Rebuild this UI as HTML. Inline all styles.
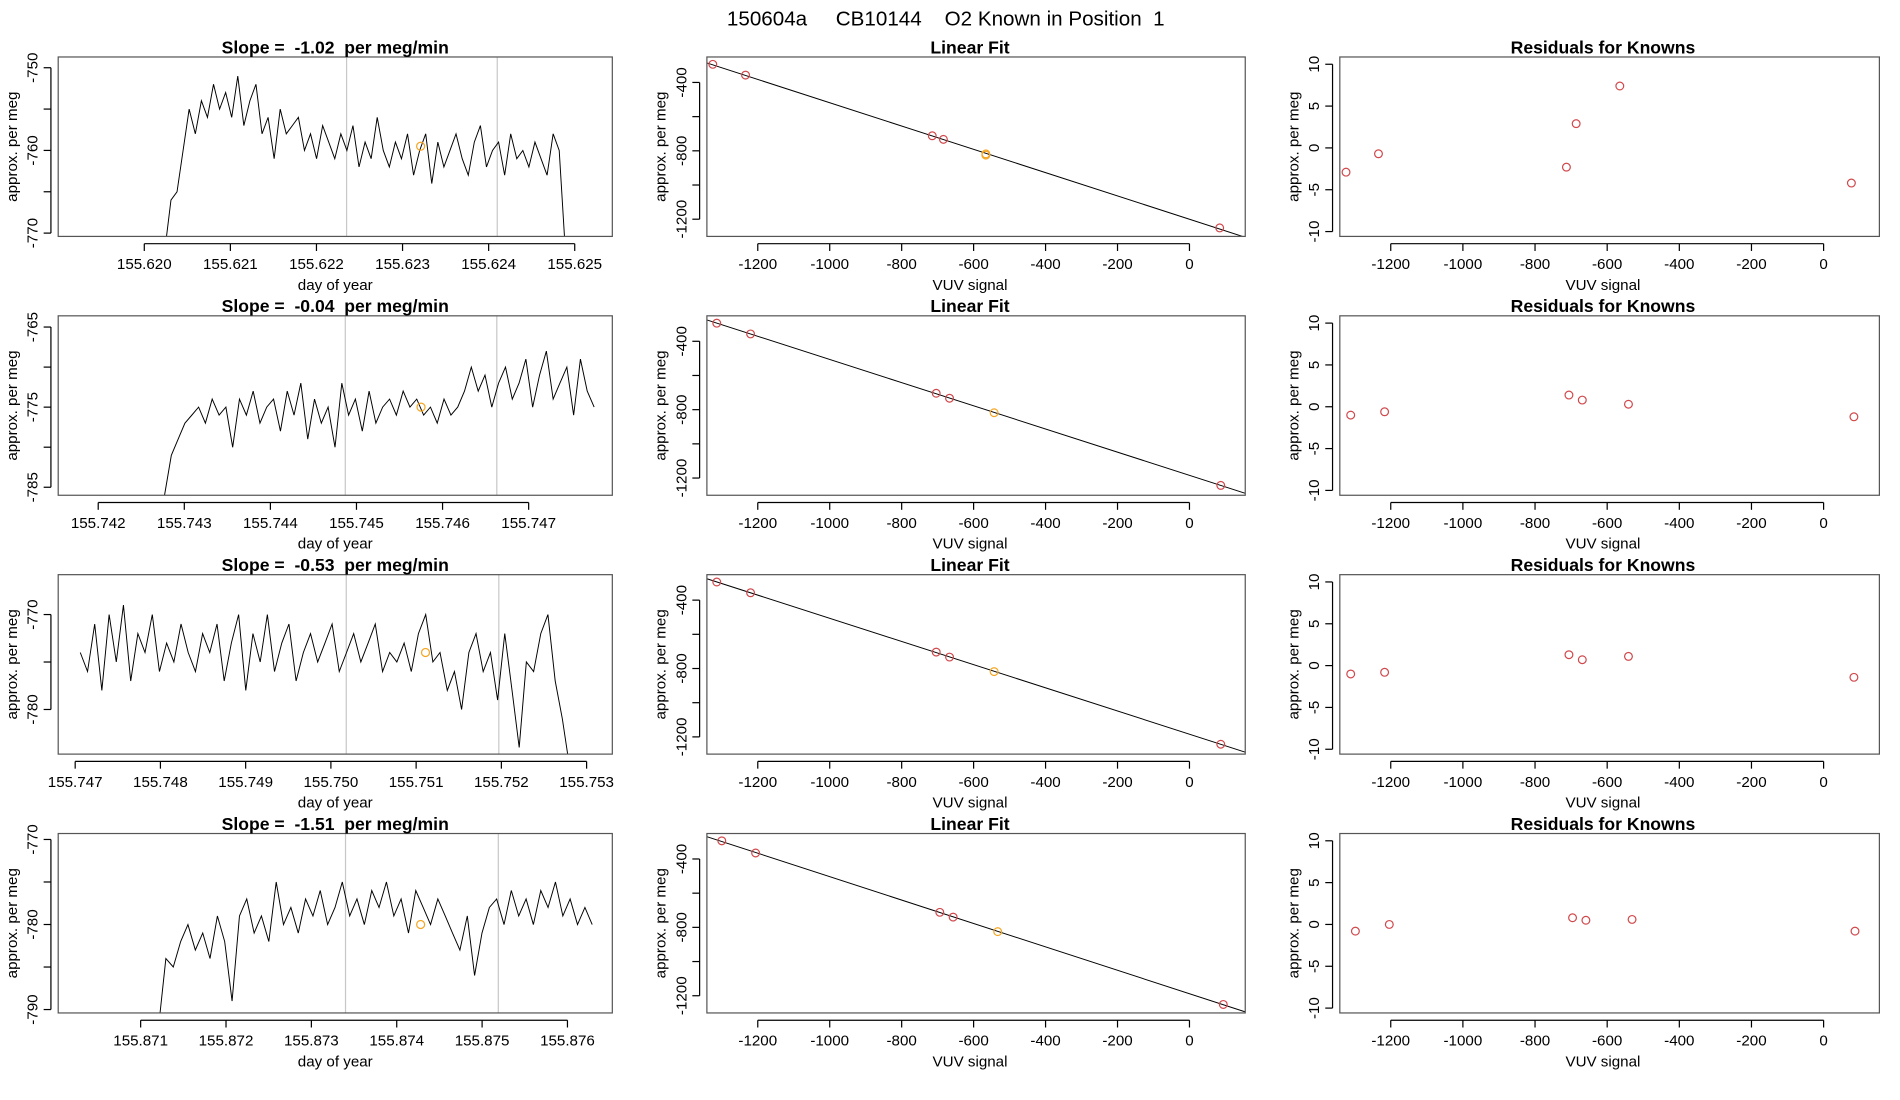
<!DOCTYPE html>
<html><head><meta charset="utf-8"><style>
html,body{margin:0;padding:0;background:#fff;width:1900px;height:1100px;overflow:hidden}
svg{display:block}
text{font-family:"Liberation Sans",sans-serif;fill:#000;white-space:pre}
</style></head><body>
<svg id="chart" width="1900" height="1100" viewBox="0 0 1567 907.3" preserveAspectRatio="none" xmlns="http://www.w3.org/2000/svg" xml:space="preserve">
<text x="780" y="21" text-anchor="middle" font-size="17">150604a     CB10144    O2 Known in Position  1</text>
</svg>
<script>
// ---- data ----
const slopes = ["-1.02","-0.04","-0.53","-1.51"];
const tStart = [155.62024,155.74277,155.74706,155.87121];
const tEnd   = [155.62489,155.74776,155.75280,155.87629];
const series1 = [-772,-766,-765,-760,-755,-758,-754,-756,-752,-755,-753,-756,-751,-757,-754,-752,-758,-756,-761,-755,-758,-757,-756,-760,-758,-761,-757,-759,-761,-758,-760,-757,-762,-759,-761,-756,-760,-762,-759,-761,-758,-763,-760,-758,-764,-759,-762,-760,-758,-761,-763,-759,-757,-762,-760,-759,-763,-758,-761,-760,-762,-759,-761,-763,-758,-760,-772];
const series2 = [-786,-781,-779,-777,-776,-775,-777,-774,-776,-775,-780,-774,-776,-773,-777,-775,-774,-778,-773,-776,-772,-779,-774,-777,-775,-780,-772,-776,-774,-778,-773,-777,-775,-774,-776,-773,-775,-774,-776,-775,-777,-774,-776,-775,-773,-770,-773,-771,-775,-772,-770,-774,-772,-769,-775,-771,-768,-774,-772,-770,-776,-769,-773,-775];
const series3 = [-774,-776,-771,-778,-770,-775,-769,-777,-772,-774,-770,-776,-773,-775,-771,-774,-776,-772,-774,-771,-777,-773,-770,-778,-772,-775,-770,-776,-773,-771,-777,-774,-772,-775,-773,-771,-776,-774,-772,-775,-773,-771,-776,-774,-775,-773,-776,-772,-770,-775,-774,-778,-776,-780,-774,-772,-776,-774,-779,-772,-778,-784,-775,-776,-772,-770,-777,-781,-786];
const series4 = [-792,-784,-785,-782,-780,-783,-781,-784,-779,-782,-789,-779,-777,-781,-779,-782,-775,-780,-778,-781,-777,-779,-776,-780,-778,-775,-779,-777,-780,-776,-778,-775,-779,-777,-781,-776,-778,-780,-777,-779,-781,-783,-779,-786,-781,-778,-777,-780,-776,-779,-777,-780,-776,-778,-775,-779,-777,-780,-778,-780];
const seriesAll = [series1,series2,series3,series4];
const grayLines = [[155.62235,155.62410],[155.74487,155.74663],[155.75018,155.75197],[155.87340,155.87519]];
const knownT = [155.62321,155.74575,155.75111,155.87428];
const knownV = [-759.5,-775,-774,-780];
const xTickLabels = [
 ["155.620","155.621","155.622","155.623","155.624","155.625"],
 ["155.742","155.743","155.744","155.745","155.746","155.747"],
 ["155.747","155.748","155.749","155.750","155.751","155.752","155.753"],
 ["155.871","155.872","155.873","155.874","155.875","155.876"]];
const yTicks = [[-750,-755,-760,-765,-770],[-765,-770,-775,-780,-785],[-770,-775,-780],[-770,-775,-780,-785,-790]];
const yTickLabels = [[-750,-760,-770],[-765,-775,-785],[-770,-780],[-770,-780,-790]];
const yDomain = [[-748.7,-770.4],[-763.6,-786],[-765.8,-784.7],[-769.3,-790.4]];
const xDomainPx = [[155.620,119,71000],[155.742,81,71000],[155.747,62,70300],[155.871,116,70400]];
// fit data
const vuv = [
 [-1325,-1234,-715,-684,-566,-566,84],
 [-1314,-1220,-704,-667,-543,87],
 [-1314,-1220,-704,-667,-543,87],
 [-1300,-1206,-694,-657,-533,94]];
const perMeg = [
 [-294,-357,-712,-733,-818,-825,-1251],
 [-294,-357,-704,-733,-818,-1243],
 [-294,-357,-704,-733,-818,-1243],
 [-294,-365,-712,-740,-825,-1251]];
const isKnown = [[0,0,0,0,1,1,0],[0,0,0,0,1,0],[0,0,0,0,1,0],[0,0,0,0,1,0]];
const resX = [
 [-1324,-1234,-713,-686,-565,77],
 [-1311,-1217,-706,-669,-541,84],
 [-1311,-1217,-706,-669,-541,84],
 [-1298,-1204,-696,-659,-531,87]];
const resY = [
 [-2.9,-0.7,-2.3,2.9,7.4,-4.2],
 [-1.0,-0.6,1.4,0.8,0.3,-1.2],
 [-1.0,-0.8,1.3,0.7,1.1,-1.4],
 [-0.8,0.0,0.8,0.5,0.6,-0.8]];
const vuvTicks = [-1200,-1000,-800,-600,-400,-200,0];
const fitYTicks = [-400,-600,-800,-1000,-1200];
const fitYLabels = [-400,-800,-1200];
const resYTicks = [-10,-5,0,5,10];

// ---- drawing ----
const svg = document.getElementById('chart');
const NS = 'http://www.w3.org/2000/svg';
function mk(tag, attrs, parent){const e=document.createElementNS(NS,tag);for(const k in attrs)e.setAttribute(k,attrs[k]);(parent||svg).appendChild(e);return e;}
function txt(s, attrs, parent){const e=mk('text',attrs,parent);e.textContent=s;return e;}
const defs = mk('defs',{});
const COLS=[[48,505],[583,1027],[1105,1550]];
const PITCH=213.5;

function frame(g,x0,x1,top,bot){
  const r=mk('rect',{x:x0,y:top,width:x1-x0,height:bot-top,fill:'none',stroke:'#555','stroke-width':1},g);
  
  
}
function xAxis(g,ticks,labels,fx,bot,name){
  const a=fx(ticks[0]),b=fx(ticks[ticks.length-1]);
  mk('line',{x1:a,x2:b,y1:bot+6,y2:bot+6,stroke:'#000'},g);
  ticks.forEach((t,i)=>{const x=fx(t);mk('line',{x1:x,x2:x,y1:bot+6,y2:bot+12,stroke:'#000'},g);
    const l=txt(labels[i],{x:x,y:bot+27,'text-anchor':'middle','font-size':12.5},g);
    
    });
  const xl=txt(name,{x:(COLS[0][0]+COLS[0][1])/2,y:bot+44,'text-anchor':'middle','font-size':12.5},g);
  return xl;
}
function yAxis(g,ticks,labels,fy,x0,mid){
  const a=fy(ticks[0]),b=fy(ticks[ticks.length-1]);
  mk('line',{x1:x0-6,x2:x0-6,y1:a,y2:b,stroke:'#000'},g);
  ticks.forEach(t=>{const y=fy(t);mk('line',{x1:x0-12,x2:x0-6,y1:y,y2:y,stroke:'#000'},g);});
  labels.forEach(t=>{const y=fy(t);
    const l=txt(String(t),{x:0,y:0,'text-anchor':'middle','font-size':12.5,transform:`translate(${x0-17},${y}) rotate(-90)`},g);
    
    });
  const yt=txt('approx. per meg',{x:0,y:0,'text-anchor':'middle','font-size':12.5,transform:`translate(${x0-34},${mid}) rotate(-90)`},g);
  
  
}

for(let r=0;r<4;r++){
  const top=47+r*PITCH, bot=top+148, mid=(top+bot)/2;
  const [c0,c1]=COLS[0];
  const g=mk('g',{});
  
  
  const [t0,p0,sc]=xDomainPx[r];
  const fx=t=>p0+(t-t0)*sc;
  const [ya,yb]=yDomain[r];
  const fy=v=>top+(v-ya)/(yb-ya)*(bot-top);
  const cp=mk('clipPath',{id:'clip'+r},defs);
  mk('rect',{x:c0,y:top,width:c1-c0,height:bot-top},cp);
  grayLines[r].forEach(t=>{const l=mk('line',{x1:fx(t),x2:fx(t),y1:top,y2:bot,stroke:'#c8c8c8'},g);
    
    });
  const s=seriesAll[r], n=s.length;
  const pts=s.map((v,i)=>`${fx(tStart[r]+(tEnd[r]-tStart[r])*i/(n-1)).toFixed(1)},${fy(v).toFixed(1)}`).join(' ');
  const pl=mk('polyline',{points:pts,fill:'none',stroke:'#000','stroke-width':0.8,'clip-path':`url(#clip${r})`},g);
  
  
  const kc=mk('circle',{cx:fx(knownT[r]),cy:fy(knownV[r]),r:3.3,fill:'none',stroke:'#f5a623'},g);
  
  
  frame(g,c0,c1,top,bot);
  const xt=xTickLabels[r].map(Number);
  const xl=xAxis(g,xt,xTickLabels[r],fx,bot,'day of year');
  
  
  yAxis(g,yTicks[r],yTickLabels[r],fy,c0,mid);
  const tt=txt(`Slope =  ${slopes[r]}  per meg/min`,{x:(c0+c1)/2,y:top-3,'text-anchor':'middle','font-size':14.5,'font-weight':'bold'},g);
  
  

  const [m0,m1]=COLS[1];
  const g2=mk('g',{});
  
  
  const fx2=v=>981+0.2967*v;
  const fy2=v=>top+21+(-400-v)*0.141;
  const cp2=mk('clipPath',{id:'clipf'+r},defs);
  mk('rect',{x:m0,y:top,width:m1-m0,height:bot-top},cp2);
  const X=vuv[r],Y=perMeg[r];
  const mx=X.reduce((a,b)=>a+b)/X.length,my=Y.reduce((a,b)=>a+b)/Y.length;
  let sxy=0,sxx=0;X.forEach((x,i)=>{sxy+=(x-mx)*(Y[i]-my);sxx+=(x-mx)**2;});
  const k=sxy/sxx,b0=my-k*mx;
  const va=(m0-981)/0.2967,vb=(m1-981)/0.2967;
  const fl=mk('line',{x1:fx2(va),y1:fy2(k*va+b0),x2:fx2(vb),y2:fy2(k*vb+b0),stroke:'#000','stroke-width':0.8,'clip-path':`url(#clipf${r})`},g2);
  
  
  X.forEach((x,i)=>{const c=mk('circle',{cx:fx2(x),cy:fy2(Y[i]),r:3.2,fill:'none',stroke:isKnown[r][i]?'#f5a623':'#d0484c'},g2);
    
    });
  frame(g2,m0,m1,top,bot);
  const xl2=xAxis(g2,vuvTicks,vuvTicks.map(String),fx2,bot,'VUV signal');
  xl2.setAttribute('x',800);
  
  
  yAxis(g2,fitYTicks,fitYLabels,fy2,m0,mid);
  const t2=txt('Linear Fit',{x:800,y:top-3,'text-anchor':'middle','font-size':14.5,'font-weight':'bold'},g2);
  
  

  const [q0,q1]=COLS[2];
  const g3=mk('g',{});
  
  
  const fx3=v=>1504+0.2975*v;
  const fy3=v=>top+75-v*6.9;
  resX[r].forEach((x,i)=>{const c=mk('circle',{cx:fx3(x),cy:fy3(resY[r][i]),r:3.2,fill:'none',stroke:'#d0484c'},g3);
    
    });
  frame(g3,q0,q1,top,bot);
  const xl3=xAxis(g3,vuvTicks,vuvTicks.map(String),fx3,bot,'VUV signal');
  xl3.setAttribute('x',1322);
  
  
  yAxis(g3,resYTicks,resYTicks,fy3,q0,mid);
  const t3=txt('Residuals for Knowns',{x:1322,y:top-3,'text-anchor':'middle','font-size':14.5,'font-weight':'bold'},g3);
  
  
}
</script>
</body></html>
